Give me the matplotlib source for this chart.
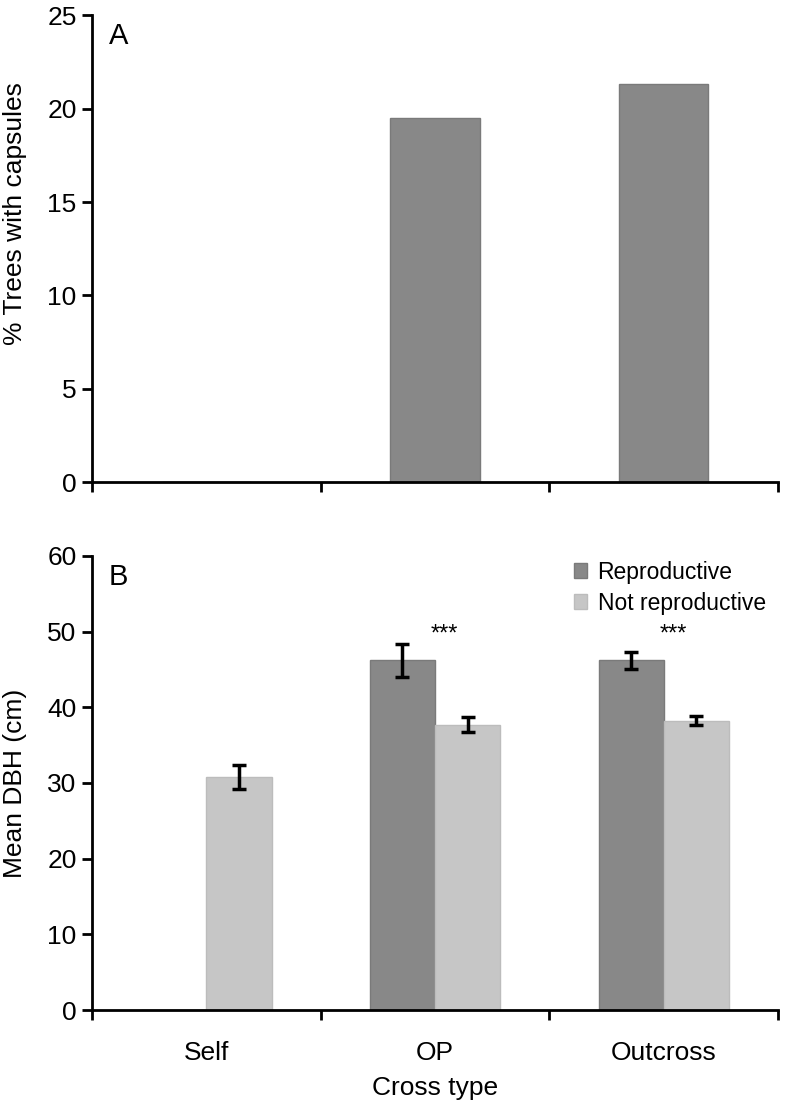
import matplotlib
matplotlib.use("Agg")
import matplotlib.pyplot as plt
import numpy as np

plt.rcParams['font.family'] = ['Liberation Sans', 'DejaVu Sans']

categories = ["Self", "OP", "Outcross"]
pct_capsules = [0.0, 19.5, 21.3]
dbh_repro = [0.0, 46.2, 46.2]
dbh_repro_err = [0.0, 2.2, 1.1]
dbh_notrepro = [30.8, 37.7, 38.2]
dbh_notrepro_err = [1.6, 1.0, 0.6]
signif = ["", "***", "***"]

dark = "#888888"
light = "#c6c6c6"
edge_dark = "#7a7a7a"
edge_light = "#bcbcbc"
fs = 19

fig = plt.figure(figsize=(7.86, 11.03), dpi=100)
axA = fig.add_axes([0.117, 0.563, 0.873, 0.423])
axB = fig.add_axes([0.117, 0.0843, 0.873, 0.4117])

x = np.arange(len(categories))

def style(ax):
    for s in ["top", "right"]:
        ax.spines[s].set_visible(False)
    for s in ["left", "bottom"]:
        ax.spines[s].set_linewidth(2)
    ax.set_xlim(-0.5, len(categories) - 0.5)
    ax.set_xticks(x)
    ax.set_xticks(np.arange(-0.5, len(categories), 1.0), minor=True)
    ax.tick_params(axis='x', which='major', length=0, labelsize=fs, pad=22)
    ax.tick_params(axis='x', which='minor', length=7, width=2, direction='out')
    ax.tick_params(axis='y', length=7, width=2, direction='out', labelsize=fs, pad=4)

# Panel A
axA.bar(x, pct_capsules, width=0.39, color=dark, edgecolor=edge_dark, linewidth=1)
style(axA)
axA.set_ylim(0, 25)
axA.set_yticks(range(0, 26, 5))
axA.set_xticklabels([])
axA.set_ylabel("% Trees with capsules", fontsize=fs)
axA.yaxis.set_label_coords(-0.094, 0.575)
axA.text(0.025, 0.985, "A", transform=axA.transAxes, fontsize=21, va='top', ha='left')

# Panel B
w = 0.285
axB.bar(x - w / 2, dbh_repro, width=w, color=dark, edgecolor=edge_dark, linewidth=1,
        label="Reproductive")
axB.bar(x + w / 2, dbh_notrepro, width=w, color=light, edgecolor=edge_light, linewidth=1,
        label="Not reproductive")
for i in range(len(categories)):
    if dbh_repro[i] > 0:
        axB.errorbar(x[i] - w / 2, dbh_repro[i], yerr=dbh_repro_err[i], fmt='none',
                     ecolor='black', elinewidth=2.5, capsize=5, capthick=2.5)
    if dbh_notrepro[i] > 0:
        axB.errorbar(x[i] + w / 2, dbh_notrepro[i], yerr=dbh_notrepro_err[i], fmt='none',
                     ecolor='black', elinewidth=2.5, capsize=5, capthick=2.5)
    if signif[i]:
        axB.text(x[i] + 0.04, 49.6, signif[i], ha='center', va='center', fontsize=17)

style(axB)
axB.set_ylim(0, 60)
axB.set_yticks(range(0, 61, 10))
axB.set_xticklabels(categories)
axB.set_ylabel("Mean DBH (cm)", fontsize=fs)
axB.yaxis.set_label_coords(-0.094, 0.5)
axB.set_xlabel("Cross type", fontsize=fs, labelpad=8)
axB.text(0.025, 0.985, "B", transform=axB.transAxes, fontsize=21, va='top', ha='left')
axB.legend(loc='upper left', bbox_to_anchor=(0.718, 0.500), bbox_transform=fig.transFigure,
           frameon=False, fontsize=16.5, handlelength=0.6, handleheight=0.6,
           handletextpad=0.45, labelspacing=0.35, borderaxespad=0)

fig.savefig("out.png", dpi=100)
